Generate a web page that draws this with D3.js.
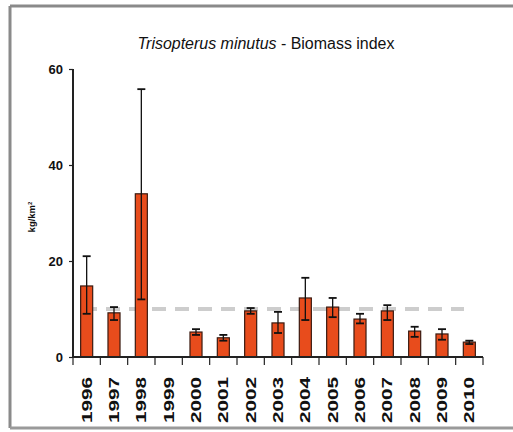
<!DOCTYPE html>
<html><head><meta charset="utf-8">
<script src="https://cdn.jsdelivr.net/npm/d3@7"></script>
<style>html,body{margin:0;background:#fff;overflow:hidden;width:513px;height:432px}svg{display:block}</style>
</head><body>
<script>
const years = ["1996","1997","1998","1999","2000","2001","2002","2003","2004","2005","2006","2007","2008","2009","2010"];
const biomass = [14.8, 9.2, 34, 0, 5.2, 4.0, 9.6, 7.1, 12.3, 10.4, 7.9, 9.6, 5.4, 4.8, 3.1];
const errLow = [9, 7.7, 12, 0, 4.6, 3.4, 9.0, 5.0, 7.7, 8.3, 7.0, 7.7, 4.2, 3.6, 2.7];
const errHigh = [21, 10.4, 55.8, 0, 5.8, 4.6, 10.2, 9.4, 16.5, 12.3, 9.0, 10.8, 6.3, 5.8, 3.4];
const yTicks = [0, 20, 40, 60];
const refLevel = 10;

const W = 513, H = 432;
const svg = d3.select("body").append("svg").attr("width", W).attr("height", H);

// frame: top, left and bottom edges only
const frame = svg.append("g").attr("stroke", "#8a8a8a").attr("stroke-width", 3);
frame.append("line").attr("x1", 10).attr("x2", W).attr("y1", 6).attr("y2", 6);
frame.append("line").attr("x1", 10).attr("x2", 10).attr("y1", 6).attr("y2", 428);
frame.append("line").attr("x1", 10).attr("x2", W).attr("y1", 428).attr("y2", 428).attr("stroke", "#9a9a9a");

const x0 = 73, x1 = 483, yTop = 69, yBot = 357;
const x = d3.scaleBand().domain(years).range([x0, x1]).paddingInner(0.56).paddingOuter(0.28);
const y = d3.scaleLinear().domain([0, 60]).range([yBot, yTop]);

const FONT = "Liberation Sans, Arial, sans-serif";

// title
const title = svg.append("text").attr("x", 266).attr("y", 49).attr("text-anchor", "middle")
  .attr("font-family", FONT).attr("font-size", 16)
  .attr("textLength", 257).attr("lengthAdjust", "spacingAndGlyphs").attr("fill", "#111");
title.append("tspan").attr("font-style", "italic").text("Trisopterus minutus");
title.append("tspan").text(" - Biomass index");

// y label
svg.append("text").attr("transform", "translate(35,217) rotate(-90)").attr("text-anchor", "middle")
  .attr("font-family", FONT).attr("font-size", 9.5).attr("font-weight", "bold")
  .attr("fill", "#111").html("kg/km<tspan dy='-3' font-size='6'>2</tspan>");

// reference dashed line
svg.append("line").attr("x1", 83).attr("x2", 464).attr("y1", y(refLevel)).attr("y2", y(refLevel))
  .attr("stroke", "#cdcdcd").attr("stroke-width", 4).attr("stroke-dasharray", "14,9");

// bars
svg.append("g").selectAll("rect").data(years).join("rect")
  .attr("x", d => x(d)).attr("width", x.bandwidth())
  .attr("y", (d, i) => y(biomass[i])).attr("height", (d, i) => yBot - y(biomass[i]))
  .attr("fill", "#e84c1c").attr("stroke", "#3a1a10").attr("stroke-width", 1.2)
  .attr("display", (d, i) => biomass[i] > 0 ? null : "none");

// error bars
const eg = svg.append("g").attr("stroke", "#111").attr("stroke-width", 1.3);
years.forEach((d, i) => {
  if (biomass[i] <= 0) return;
  const cx = x(d) + x.bandwidth() / 2;
  eg.append("line").attr("x1", cx).attr("x2", cx).attr("y1", y(errLow[i])).attr("y2", y(errHigh[i]));
  [errLow[i], errHigh[i]].forEach(v => {
    eg.append("line").attr("x1", cx - 4).attr("x2", cx + 4).attr("y1", y(v)).attr("y2", y(v)).attr("stroke-width", 1.8);
  });
});

// y axis
const ya = svg.append("g").attr("transform", `translate(${x0},0)`)
  .call(d3.axisLeft(y).tickValues(yTicks).tickSize(4).tickPadding(6));
ya.select(".domain").attr("stroke", "#222").attr("stroke-width", 2).attr("d", `M0,${yTop}V${yBot}`);
ya.selectAll(".tick line").attr("stroke", "#222").attr("stroke-width", 1.2);
ya.selectAll("text").attr("font-family", FONT).attr("font-size", 13)
  .attr("font-weight", "bold").attr("fill", "#111");

// x axis
const xa = svg.append("g").attr("transform", `translate(0,${yBot})`);
xa.append("line").attr("x1", x0).attr("x2", x1).attr("stroke", "#222").attr("stroke-width", 2);
const bounds = d3.range(years.length + 1).map(k => x0 + k * (x1 - x0) / years.length);
xa.selectAll("line.tk").data(bounds).join("line").attr("class", "tk")
  .attr("x1", d => d).attr("x2", d => d).attr("y1", 0).attr("y2", 8)
  .attr("stroke", "#222").attr("stroke-width", 1.2);
xa.selectAll("text").data(years).join("text")
  .attr("transform", d => `translate(${x(d) + x.bandwidth() / 2 + 5},${20}) rotate(-90)`)
  .attr("text-anchor", "end")
  .attr("font-family", FONT).attr("font-size", 14).attr("font-weight", "bold")
  .attr("textLength", 46).attr("lengthAdjust", "spacingAndGlyphs")
  .attr("fill", "#111").text(d => d);
</script>
</body></html>
